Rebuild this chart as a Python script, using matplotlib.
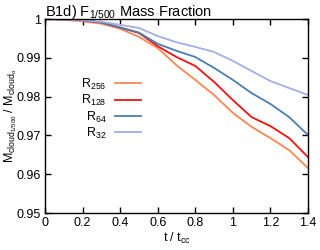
import matplotlib
matplotlib.use('Agg')
import matplotlib.pyplot as plt

plt.rcParams['font.family'] = ['Liberation Sans', 'DejaVu Sans']
plt.rcParams['mathtext.fontset'] = 'custom'
plt.rcParams['mathtext.rm'] = 'Liberation Sans'
plt.rcParams['mathtext.it'] = 'Liberation Sans'

# time in cloud crushing times
t = [0.0, 0.1, 0.2, 0.3, 0.4, 0.5, 0.6, 0.7, 0.8, 0.9, 1.0, 1.1, 1.2, 1.3, 1.4]

r256 = [1.0, 0.9998, 0.9994, 0.9988, 0.9975, 0.9954, 0.9925, 0.9881, 0.9843,
        0.9804, 0.9758, 0.9722, 0.9693, 0.9662, 0.9616]
r128 = [1.0, 0.9999, 0.9997, 0.9991, 0.9978, 0.9964, 0.9930, 0.9902, 0.9879,
        0.9838, 0.9791, 0.9747, 0.9724, 0.9693, 0.9644]
r64 = [1.0, 0.9999, 0.9997, 0.9991, 0.9978, 0.9965, 0.9936, 0.9918, 0.9902,
       0.9874, 0.9843, 0.9809, 0.9781, 0.9747, 0.9701]
r32 = [1.0, 0.9999, 0.9997, 0.9993, 0.9985, 0.9977, 0.9956, 0.9940, 0.9928,
       0.9915, 0.9892, 0.9866, 0.9840, 0.9822, 0.9804]

labels = ['R$_{256}$', 'R$_{128}$', 'R$_{64}$', 'R$_{32}$']
colors = ['#FF8550', '#F21010', '#4A7EB3', '#A3AEE6']

fig = plt.figure(figsize=(3.2, 2.5), dpi=100)
ax = fig.add_axes([0.1406, 0.148, 0.822, 0.776])

for y, lab, c in zip([r256, r128, r64, r32], labels, colors):
    ax.plot(t, y, color=c, linewidth=1.3, label=lab)

ax.set_xlim(0, 1.4)
ax.set_ylim(0.95, 1.0)
ax.set_xticks([0, 0.2, 0.4, 0.6, 0.8, 1, 1.2, 1.4])
ax.set_xticklabels(['0', '0.2', '0.4', '0.6', '0.8', '1', '1.2', '1.4'])
ax.set_yticks([0.95, 0.96, 0.97, 0.98, 0.99, 1.0])
ax.set_yticklabels(['0.95', '0.96', '0.97', '0.98', '0.99', '1'])
ax.tick_params(direction='in', top=True, right=True, length=4, width=1,
               labelsize=9, pad=3)
for s in ax.spines.values():
    s.set_linewidth(1)

ax.set_xlabel('t / t$_{\\rm cc}$', fontsize=9, labelpad=1)
ax.set_ylabel('M$_{\\rm cloud_{1/500}}$ / M$_{\\rm cloud_o}$', fontsize=9)
ax.yaxis.set_label_coords(-0.1, 0.5)
ax.set_title('B1d) F$_{1/500}$ Mass Fraction', fontsize=10.5, loc='left', pad=2)

ax.legend(loc='upper left', bbox_to_anchor=(0.095, 0.76), frameon=False,
          fontsize=9, markerfirst=False, handlelength=2.1, labelspacing=0.1,
          handletextpad=0.65)

fig.savefig('out.png', dpi=100)
